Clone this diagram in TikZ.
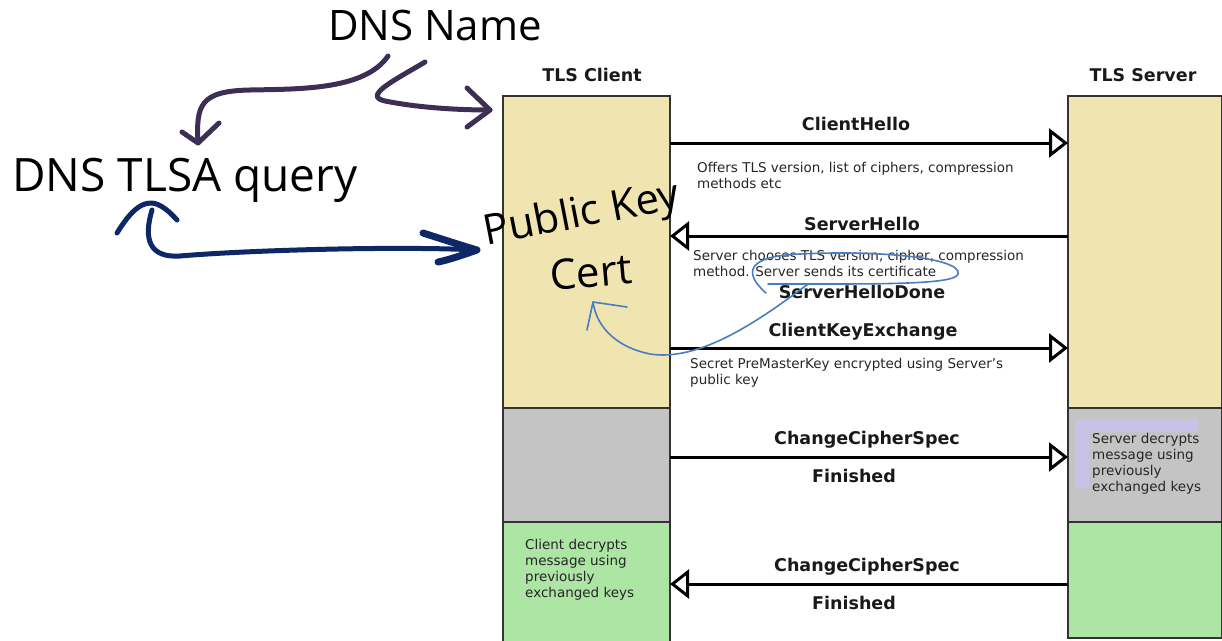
\documentclass[tikz,border=0pt]{standalone}
\usepackage{fontspec}
\setmainfont{DejaVu Sans}
\newfontfamily\handfont{Open Sans}
\usetikzlibrary{arrows.meta,positioning,calc}
\definecolor{certbeige}{HTML}{F0E4B1}
\definecolor{keygray}{HTML}{C4C4C4}
\definecolor{okgreen}{HTML}{ADE5A4}
\definecolor{lavender}{HTML}{C9C2E8}
\definecolor{inkpurple}{HTML}{3D2E56}
\definecolor{inknavy}{HTML}{0E2766}
\definecolor{inkblue}{HTML}{4A7CC0}

\begin{document}
\begin{tikzpicture}[x=1pt,y=-1pt,
    col/.style={draw=black!80,line width=1.2pt,inner sep=0pt,outer sep=0pt},
    msg/.style={line width=3pt,-{Triangle[open,length=19pt,width=29pt]}},
    lbl/.style={font=\fontsize{17.5}{20}\selectfont\bfseries,text=black!90},
    note/.style={font=\fontsize{13.5}{16}\selectfont,text=black!85,align=left,inner sep=0pt,anchor=west},
    hand/.style={font=\handfont\fontsize{42}{46}\selectfont,inner sep=0pt},
    scrawl/.style={line width=5pt,line cap=round,line join=round}]
  \useasboundingbox (0,0) rectangle (1222,640);

  % columns
  \node[col,fill=certbeige,minimum width=167pt,minimum height=312pt] (client1) at (586.5,252) {};
  \node[col,fill=keygray,minimum width=167pt,minimum height=114pt] (client2) at (586.5,465) {};
  \node[col,fill=okgreen,minimum width=167pt,minimum height=124pt] (client3) at (586.5,584) {};
  \node[col,fill=certbeige,minimum width=154pt,minimum height=312pt] (server1) at (1145,252) {};
  \node[col,fill=keygray,minimum width=154pt,minimum height=114pt] (server2) at (1145,465) {};
  \node[col,fill=okgreen,minimum width=154pt,minimum height=116pt] (server3) at (1145,580) {};
  \node[lbl] (clientlbl) at (592,75) {TLS Client};
  \node[lbl] (serverlbl) at (1143,75) {TLS Server};

  % messages
  \coordinate (ch) at (0,143);
  \coordinate (sh) at (0,236);
  \coordinate (cke) at (0,348);
  \coordinate (ccs1) at (0,457);
  \coordinate (ccs2) at (0,584);
  \draw[msg] (client1.east |- ch) -- (server1.west |- ch);
  \draw[msg] (server1.west |- sh) -- (client1.east |- sh);
  \draw[msg] (client1.east |- cke) -- (server1.west |- cke);
  \draw[msg] (client2.east |- ccs1) -- (server2.west |- ccs1);
  \draw[msg] (server3.west |- ccs2) -- (client3.east |- ccs2);

  \node[lbl] (clienthello) at (856,124) {ClientHello};
  \node[lbl] (serverhello) at (862,224) {ServerHello};
  \node[lbl] (hellodone) at (862,292) {ServerHelloDone};
  \node[lbl] (keyexch) at (863,332) {ClientKeyExchange};
  \node[lbl] (cipher1) at (867,440) {ChangeCipherSpec};
  \node[lbl] (finished1) at (854,476) {Finished};
  \node[lbl] (cipher2) at (867,567) {ChangeCipherSpec};
  \node[lbl] (finished2) at (854,603) {Finished};

  \node[note] (offers) at (697,175) {Offers TLS version, list of ciphers, compression\\methods etc};
  \node[note] (chooses) at (693,263) {Server chooses TLS version, cipher, compression\\method. Server sends its certificate};
  \node[note] (secret) at (690,373) {Secret PreMasterKey encrypted using Server's\\public key};
  \fill[lavender] (1075,419) rectangle (1198,488);
  \fill[keygray] (1089,432) rectangle (1205,492);
  \node[note] (srvdecrypt) at (1092,464) {Server decrypts\\message using\\previously\\exchanged keys};
  \node[note] (clidecrypt) at (525,570) {Client decrypts\\message using\\previously\\exchanged keys};

  % scribbles
  \node[hand] (dnsname) at (435,25) {DNS Name};
  \node[hand,font=\handfont\fontsize{46}{50}\selectfont] (tlsa) at (185,180) {DNS TLSA query};
  \node[hand,rotate=11] (pubkey) at (582,216) {Public Key};
  \node[hand,rotate=5] (cert) at (591,272) {Cert};

  \coordinate (n1) at (388,56);
  \coordinate (n2) at (425,62);
  \coordinate (q1) at (198,143);
  \coordinate (c1) at (490,110);
  \draw[scrawl,inkpurple] (n1) .. controls (365,90) and (300,89) .. (250,90) .. controls (200,91) and (196,105) .. (q1);
  \draw[scrawl,inkpurple] ($(q1)+(-16,-11)$) -- (q1) -- ($(q1)+(21,-20)$);
  \draw[scrawl,inkpurple] (n2) .. controls (395,80) and (362,96) .. (385,101) .. controls (420,108) and (460,110) .. (c1);
  \draw[scrawl,inkpurple] ($(c1)+(-23,-22)$) -- (c1) -- ($(c1)+(-23,17)$);

  \coordinate (q2) at (151,203);
  \coordinate (k1) at (477,250);
  \draw[scrawl,inknavy] (k1) .. controls (400,246) and (250,250) .. (180,256) .. controls (150,258) and (143,240) .. ($(q2)+(1,7)$);
  \draw[scrawl,inknavy] (117,233) .. controls (130,212) and (140,203) .. (q2) .. controls (160,203) and (170,212) .. (177,220);
  \draw[scrawl,inknavy,line width=7pt] (423,233) .. controls (445,240) and (460,245) .. (k1) .. controls (460,256) and (448,260) .. (438,262);

  \coordinate (crt) at (593,302);
  \draw[inkblue,line width=1.6pt,line cap=round] (766,293) .. controls (742,272) and (748,256) .. (800,254)
    .. controls (880,250) and (962,258) .. (958,274) .. controls (955,285) and (880,284) .. (768,284);
  \draw[inkblue,line width=1.6pt,line cap=round] (808,284) .. controls (760,320) and (700,362) .. (650,354)
    .. controls (620,348) and (597,330) .. (crt);
  \draw[inkblue,line width=1.6pt,line cap=round,line join=round] (587,330) -- (crt) -- (627,307);
\end{tikzpicture}
\end{document}
